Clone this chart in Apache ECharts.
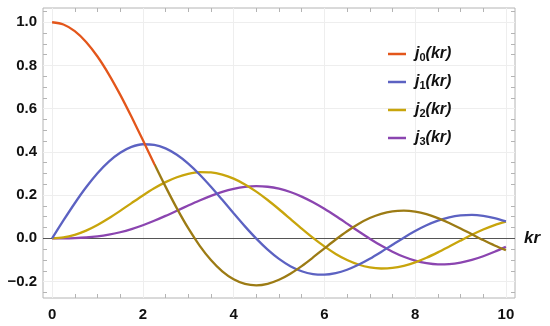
<!DOCTYPE html>
<html lang="en">
<head>
<meta charset="UTF-8">
<title>Spherical Bessel functions</title>
<script src="https://cdn.jsdelivr.net/npm/echarts@6/dist/echarts.min.js"></script>
<style>html,body{margin:0;padding:0;background:#fff;}</style>
</head>
<body>
<div id="main" style="width:550px;height:326px"></div>
<script>
// values, step 0.25 in kr
var kr = [0, 0.25, 0.5, 0.75, 1, 1.25, 1.5, 1.75, 2, 2.25, 2.5, 2.75, 3, 3.25, 3.5, 3.75, 4, 4.25, 4.5, 4.75,
          5, 5.25, 5.5, 5.75, 6, 6.25, 6.5, 6.75, 7, 7.25, 7.5, 7.75, 8, 8.25, 8.5, 8.75, 9, 9.25, 9.5, 9.75, 10];
var j0 = [1, 0.9896, 0.9589, 0.9089, 0.8415, 0.7592, 0.6650, 0.5623, 0.4546, 0.3458, 0.2394, 0.1388,
          0.0470, -0.0333, -0.1002, -0.1524, -0.1892, -0.2106, -0.2172, -0.2104, -0.1918, -0.1636,
          -0.1283, -0.0884, -0.0466, -0.0053, 0.0331, 0.0667, 0.0939, 0.1135, 0.1251, 0.1283, 0.1237,
          0.1118, 0.0939, 0.0714, 0.0458, 0.0188, -0.0079, -0.0328, -0.0544];
var j1 = [0, 0.0828, 0.1625, 0.2362, 0.3012, 0.3551, 0.3962, 0.4232, 0.4354, 0.4329, 0.4162, 0.3866,
          0.3457, 0.2956, 0.2389, 0.1782, 0.1161, 0.0554, -0.0014, -0.0522, -0.0951, -0.1287, -0.1522,
          -0.1651, -0.1678, -0.1608, -0.1452, -0.1224, -0.0943, -0.0627, -0.0295, 0.0032, 0.0336,
          0.0603, 0.0819, 0.0974, 0.1063, 0.1085, 0.1041, 0.0938, 0.0785];
var j2 = [0, 0.0042, 0.0164, 0.0360, 0.0620, 0.0930, 0.1273, 0.1631, 0.1985, 0.2314, 0.2601, 0.2829,
          0.2986, 0.3062, 0.3050, 0.2950, 0.2763, 0.2497, 0.2163, 0.1774, 0.1347, 0.0901, 0.0453,
          0.0022, -0.0373, -0.0719, -0.1001, -0.1211, -0.1343, -0.1395, -0.1369, -0.1271, -0.1111,
          -0.0899, -0.0650, -0.0380, -0.0104, 0.0164, 0.0408, 0.0616, 0.0779];
var j3 = [0, 0.0001, 0.0012, 0.0039, 0.0090, 0.0170, 0.0283, 0.0429, 0.0607, 0.0813, 0.1039, 0.1278,
          0.1521, 0.1754, 0.1968, 0.2151, 0.2292, 0.2384, 0.2417, 0.2389, 0.2298, 0.2145, 0.1933,
          0.1671, 0.1367, 0.1033, 0.0682, 0.0327, -0.0016, -0.0335, -0.0617, -0.0852, -0.1031,
          -0.1148, -0.1202, -0.1191, -0.1121, -0.0996, -0.0827, -0.0622, -0.0395];

var names = ['0', '1', '2', '3'];
var colors = ['#e3561b', '#5c62c2', '#c8a50c', '#8b45b0'];
var j0Dark = '#9c7b14';   // j0 turns olive past kr ~ 2.3

// ticks
var xMajor = [0, 2, 4, 6, 8, 10];
var xMinor = [0, 0.5, 1, 1.5, 2, 2.5, 3, 3.5, 4, 4.5, 5, 5.5, 6, 6.5, 7, 7.5, 8, 8.5, 9, 9.5, 10];
var yMajor = [-0.2, 0, 0.2, 0.4, 0.6, 0.8, 1.0];
var yMinor = [-0.25, -0.2, -0.15, -0.1, -0.05, 0, 0.05, 0.1, 0.15, 0.2, 0.25, 0.3, 0.35, 0.4, 0.45, 0.5,
              0.55, 0.6, 0.65, 0.7, 0.75, 0.8, 0.85, 0.9, 0.95, 1.0, 1.05];

var font = '"Liberation Sans", Arial, sans-serif';
var frameColor = '#b4b4b4';

function pairs(ys) {
    return kr.map(function (x, i) { return [x, ys[i]]; });
}

function xAx(pos, vals, len, labels) {
    return {
        type: 'value', position: pos, min: -0.2, max: 10.2,
        axisLine: { show: false, onZero: false },
        splitLine: { show: false },
        axisTick: { show: true, inside: true, length: len, customValues: vals, lineStyle: { color: frameColor } },
        axisLabel: labels ? {
            customValues: vals, margin: 9, fontSize: 15, fontWeight: 'bold', color: '#111', fontFamily: font
        } : { show: false }
    };
}
function yAx(pos, vals, len, labels) {
    return {
        type: 'value', position: pos, min: -0.276, max: 1.066,
        axisLine: { show: false, onZero: false },
        splitLine: { show: false },
        axisTick: { show: true, inside: true, length: len, customValues: vals, lineStyle: { color: frameColor } },
        axisLabel: labels ? {
            customValues: vals, margin: 6, fontSize: 15, fontWeight: 'bold', color: '#111', fontFamily: font,
            formatter: function (v) { return v.toFixed(1).replace('-', '\u2212'); }
        } : { show: false }
    };
}

var gridLines = [];
xMajor.forEach(function (v) { gridLines.push({ xAxis: v }); });
yMajor.forEach(function (v) { if (v !== 0) gridLines.push({ yAxis: v }); });
gridLines.push({
    yAxis: 0,
    lineStyle: { color: '#555', width: 1, type: 'solid' },
    label: { show: true, position: 'end', formatter: 'kr', distance: 9,
             fontSize: 17, fontStyle: 'italic', fontWeight: 'bold', color: '#111', fontFamily: font }
});

var series = [{
    type: 'line', name: 'grid', data: [], silent: true, z: 1,
    markLine: {
        silent: true, symbol: ['none', 'none'], animation: false, z: 1,
        label: { show: false },
        lineStyle: { color: '#eeeeee', width: 1, type: 'solid' },
        data: gridLines
    }
}];
[j0, j1, j2, j3].forEach(function (ys, i) {
    var lc = colors[i];
    if (i === 0) {
        lc = new echarts.graphic.LinearGradient(0, 0, 1, 0, [
            { offset: 0, color: colors[0] }, { offset: 0.23, color: colors[0] },
            { offset: 0.23, color: j0Dark }, { offset: 1, color: j0Dark }
        ]);
    }
    series.push({
        type: 'line', name: names[i], data: pairs(ys), smooth: 0.3,
        showSymbol: false, symbol: 'none', z: 6 - i,
        itemStyle: { color: colors[i] },
        lineStyle: { color: lc, width: 2.3 }
    });
});

echarts.init(document.getElementById('main')).setOption({
    animation: false,
    grid: { left: 43, right: 35, top: 8, bottom: 28, show: true, borderColor: frameColor, borderWidth: 1 },
    xAxis: [xAx('bottom', xMajor, 7, true), xAx('bottom', xMinor, 4, false),
            xAx('top', xMajor, 7, false), xAx('top', xMinor, 4, false)],
    yAxis: [yAx('left', yMajor, 7, true), yAx('left', yMinor, 4, false),
            yAx('right', yMajor, 7, false), yAx('right', yMinor, 4, false)],
    legend: {
        orient: 'vertical', left: 383, top: 39, itemGap: 8, z: 10,
        icon: 'rect', itemWidth: 18, itemHeight: 2.5,
        data: names.map(function (n, i) {
            return { name: n, itemStyle: { color: colors[i] } };
        }),
        formatter: function (n) { return '{j|j}{s|' + n + '}{k|(kr)}'; },
        textStyle: {
            lineHeight: 20,
            rich: {
                j: { fontSize: 16, fontStyle: 'italic', fontWeight: 'bold', color: '#111', fontFamily: font, padding: [0, 0, 0, 4] },
                s: { fontSize: 11, fontWeight: 'bold', color: '#111', fontFamily: font, padding: [7, 0, 0, 0] },
                k: { fontSize: 16, fontStyle: 'italic', fontWeight: 'bold', color: '#111', fontFamily: font }
            }
        }
    },
    series: series
});
</script>
</body>
</html>
